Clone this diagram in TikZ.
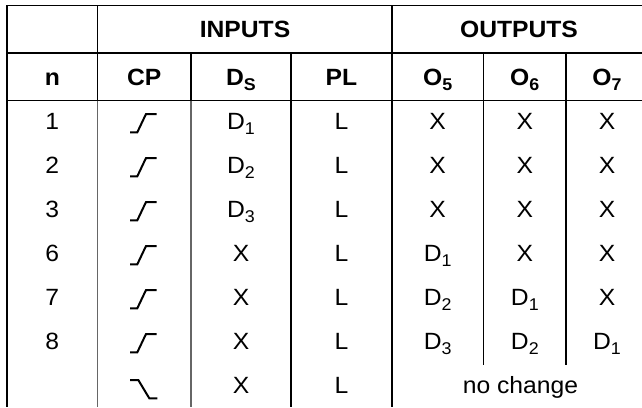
\documentclass[tikz,border=0pt]{standalone}
\usepackage{fontspec}
\setmainfont[FakeStretch=1.05]{Liberation Sans}
\newcommand\sbx[1]{\raisebox{-4.6pt}{\fontsize{17}{18}\selectfont #1}}
\begin{document}
\begin{tikzpicture}[x=1pt,y=-1pt,
  grid/.style={line width=1.3pt,black},
  gridgray/.style={line width=1.3pt,black!60},
  cell/.style={anchor=base,inner sep=0pt,font=\fontsize{23.5}{26}\selectfont},
  head/.style={anchor=base,inner sep=0pt,font=\fontsize{23.5}{26}\selectfont\bfseries},
  edgesym/.style={line width=2pt,line join=miter,line cap=butt}]
\useasboundingbox (0,0) rectangle (642,407);
% grid
\draw[grid] (7,5.3) -- (642,5.3);
\draw[grid] (7,53) -- (642,53);
\draw[grid] (7,100.7) -- (642,100.7);
\draw[grid] (7,5.3) -- (7,407);
\draw[grid] (97.7,5.3) -- (97.7,100.7);
\draw[gridgray] (97.7,100.7) -- (97.7,407);
\draw[grid] (191,53) -- (191,100.7);
\draw[gridgray] (191,100.7) -- (191,407);
\draw[grid] (291,53) -- (291,407);
\draw[grid] (392,5.3) -- (392,407);
\draw[grid] (483.5,53) -- (483.5,365);
\draw[grid] (566,53) -- (566,365);
% headers
\node[head] (hin) at (245,37.5) {INPUTS};
\node[head] (hout) at (519,37.5) {OUTPUTS};
\node[head] (hn) at (52.3,85.5) {n};
\node[head] (hcp) at (144.3,85.5) {CP};
\node[head] (hds) at (241,85.5) {D\sbx{S}};
\node[head] (hpl) at (341.5,85.5) {PL};
\node[head] (ho5) at (437.7,85.5) {O\sbx{5}};
\node[head] (ho6) at (524.8,85.5) {O\sbx{6}};
\node[head] (ho7) at (607,85.5) {O\sbx{7}};
% data rows
\foreach \n/\ds/\oa/\ob/\oc [count=\i from 0] in {
  1/D\sbx{1}/X/X/X,
  2/D\sbx{2}/X/X/X,
  3/D\sbx{3}/X/X/X,
  6/X/D\sbx{1}/X/X,
  7/X/D\sbx{2}/D\sbx{1}/X,
  8/X/D\sbx{3}/D\sbx{2}/D\sbx{1}}{
  \pgfmathsetmacro\b{129.9+44*\i}
  \pgfmathsetmacro\c{122+44*\i}
  \node[cell] (n\i) at (52.3,\b) {\n};
  \node[cell] (ds\i) at (241,\b) {\ds};
  \node[cell] (pl\i) at (341.5,\b) {L};
  \node[cell] (oa\i) at (437.7,\b) {\oa};
  \node[cell] (ob\i) at (524.8,\b) {\ob};
  \node[cell] (oc\i) at (607,\b) {\oc};
  \draw[edgesym] (130,{\c+10.3}) -- (137.3,{\c+10.3}) -- (146,{\c-8}) -- (156.7,{\c-8});
}
% last row
\node[cell] (ds6) at (241,393.9) {X};
\node[cell] (pl6) at (341.5,393.9) {L};
\node[cell] (nc) at (520.5,393.9) {no change};
\draw[edgesym] (130,380) -- (138.3,380) -- (149.3,398.3) -- (157.3,398.3);
\end{tikzpicture}
\end{document}
